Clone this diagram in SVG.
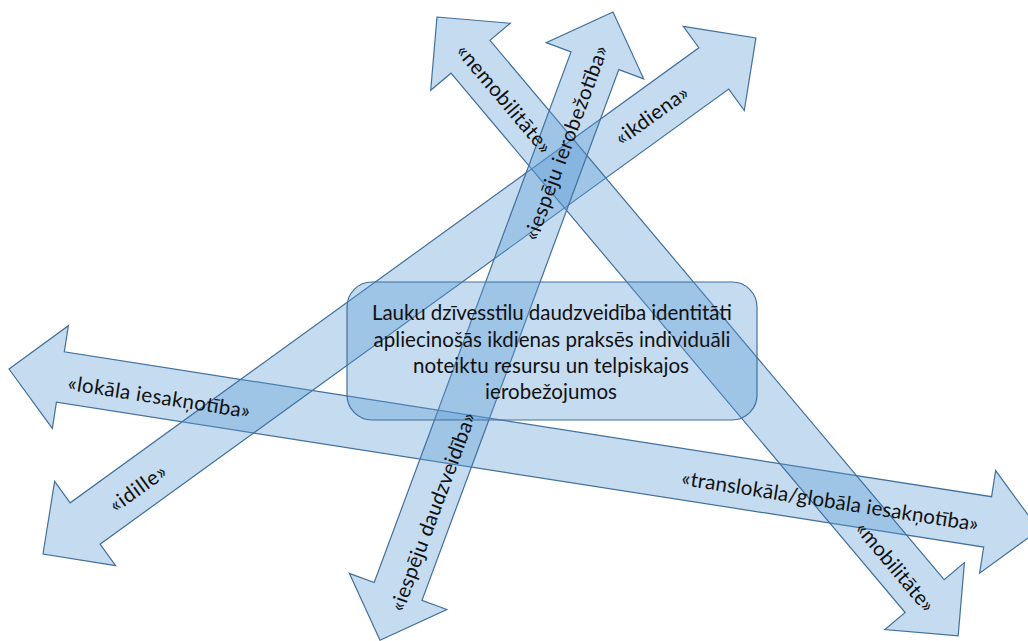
<svg xmlns="http://www.w3.org/2000/svg" width="1028" height="641" viewBox="0 0 1028 641">
  <style>
    .shape { fill: #5B9BD5; fill-opacity: 0.36; stroke: #41719C; stroke-width: 1.2; stroke-linejoin: miter; }
    .lbl { font-family: Lato, "Noto Sans", "DejaVu Sans", sans-serif; font-size: 20.5px; fill: #111111; text-anchor: middle; }
  </style>
  <rect width="1028" height="641" fill="#ffffff"/>
  <g id="arrows">
    <g id="arrow-rootedness">
      <polygon class="shape" transform="translate(9,369) rotate(8.88)" points="0,0 52,-52 52,-25.5 990.5,-25.5 990.5,-52 1042.5,0 990.5,52 990.5,25.5 52,25.5 52,52"/>
    </g>
    <g id="arrow-everyday">
      <polygon class="shape" transform="translate(43,554) rotate(-35.9)" points="0,0 52,-52 52,-25.5 828.1,-25.5 828.1,-52 880.1,0 828.1,52 828.1,25.5 52,25.5 52,52"/>
    </g>
    <g id="arrow-mobility">
      <polygon class="shape" transform="translate(437,17) rotate(49.9)" points="0,0 52,-52 52,-25.5 757.1,-25.5 757.1,-52 809.1,0 757.1,52 757.1,25.5 52,25.5 52,52"/>
    </g>
    <g id="arrow-opportunities">
      <polygon class="shape" transform="translate(613,12) rotate(110.35)" points="0,0 52,-52 52,-25.5 618,-25.5 618,-52 670,0 618,52 618,25.5 52,25.5 52,52"/>
    </g>
  </g>
  <g id="center-node">
    <rect class="shape" x="347" y="282" width="410" height="138" rx="25" ry="25"/>
    <text class="lbl" x="552" y="320" textLength="360">Lauku dzīvesstilu daudzveidība identitāti</text>
    <text class="lbl" x="552" y="347" textLength="357">apliecinošās ikdienas praksēs individuāli</text>
    <text class="lbl" x="551" y="373" textLength="276">noteiktu resursu un telpiskajos</text>
    <text class="lbl" x="551" y="399" textLength="132">ierobežojumos</text>
  </g>
  <g id="arrow-labels">
    <text class="lbl" transform="translate(158,404) rotate(8.88)" textLength="184">«lokāla iesakņotība»</text>
    <text class="lbl" transform="translate(829,508) rotate(8.88)" textLength="300">«translokāla/globāla iesakņotība»</text>
    <text class="lbl" transform="translate(142,494) rotate(-35.9)" textLength="65">«idille»</text>
    <text class="lbl" transform="translate(656,121) rotate(-35.9)" textLength="85">«ikdiena»</text>
    <text class="lbl" transform="translate(498.8,103.5) rotate(49.9)" textLength="135">«nemobilitāte»</text>
    <text class="lbl" transform="translate(889.8,571.5) rotate(49.9)" textLength="110">«mobilitāte»</text>
    <text class="lbl" transform="translate(572.5,145.3) rotate(-69.65)" textLength="206">«iespēju ierobežotība»</text>
    <text class="lbl" transform="translate(439.5,514.3) rotate(-69.65)" textLength="210">«iespēju daudzveidība»</text>
  </g>
</svg>
